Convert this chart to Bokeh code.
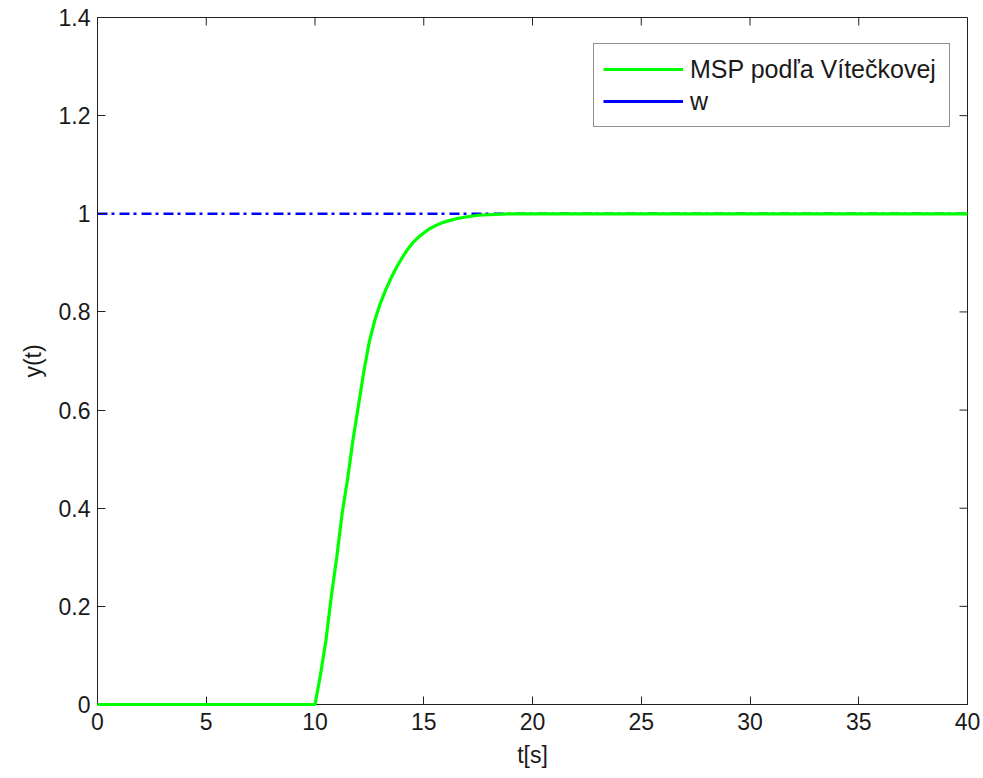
import math
from bokeh.plotting import figure
from bokeh.models import FixedTicker, Legend, LegendItem, Range1d
from bokeh.embed import file_html
from bokeh.resources import INLINE

# ---- data ----
time_s = [0.0, 10.0, 10.25, 10.5, 10.75, 11.0, 11.25, 11.5, 11.75, 12.0, 12.25, 12.5,
          12.75, 13.0, 13.25, 13.5, 13.75, 14.0, 14.25, 14.5, 14.75, 15.0, 15.25,
          15.5, 15.75, 16.0, 16.25, 16.5, 16.75, 17.0, 17.5, 18.0, 18.5, 19.0, 40.0]
msp_y = [0.0, 0.0, 0.06, 0.13, 0.22, 0.30, 0.39, 0.46, 0.54, 0.61, 0.68, 0.74,
         0.783, 0.817, 0.845, 0.869, 0.891, 0.91, 0.927, 0.941, 0.952, 0.961, 0.969,
         0.975, 0.980, 0.984, 0.987, 0.990, 0.992, 0.994, 0.997, 0.998, 0.999, 1.0, 1.0]
w_t = [0.0, 40.0]
w_y = [1.0, 1.0]

x_ticks = [0, 5, 10, 15, 20, 25, 30, 35, 40]
y_ticks = [0, 0.2, 0.4, 0.6, 0.8, 1, 1.2, 1.4]
y_tick_labels = ["0", "0.2", "0.4", "0.6", "0.8", "1", "1.2", "1.4"]

FONT = "Liberation Sans"
TXT = "#1a1a1a"
AX = "#222222"

x_min, x_max = x_ticks[0], x_ticks[-1]
y_min, y_max = y_ticks[0], y_ticks[-1]

p = figure(width=983, height=778, output_backend="svg", toolbar_location=None,
           x_range=Range1d(x_min, x_max), y_range=Range1d(y_min, y_max),
           min_border_left=97, min_border_right=16, min_border_top=17,
           min_border_bottom=74)
p.background_fill_color = "white"
p.border_fill_color = "white"
p.outline_line_color = AX
p.outline_line_width = 1
p.grid.visible = False

# lines
w_r = p.line(w_t, w_y, line_color="#0000ff", line_width=2.5, line_dash="10 4 3 5")
msp_r = p.line(time_s, msp_y, line_color="#00ff00", line_width=3.2)
msp_r.level = "overlay"
w_leg = p.line([w_t[0]], [float("nan")], line_color="#0000ff", line_width=3)

# inward ticks on the top and right edges of the box
p.ray(x=x_ticks, y=[y_max] * len(x_ticks), length=8, length_units="screen",
      angle=-math.pi / 2, line_color=AX, line_width=1)
p.ray(x=[x_max] * len(y_ticks), y=y_ticks, length=8, length_units="screen",
      angle=math.pi, line_color=AX, line_width=1)

xax = p.xaxis[0]
yax = p.yaxis[0]
xax.ticker = FixedTicker(ticks=x_ticks)
yax.ticker = FixedTicker(ticks=y_ticks)
yax.major_label_overrides = {t: l for t, l in zip(y_ticks, y_tick_labels)}
xax.axis_label = "t[s]"
yax.axis_label = "y(t)"
for ax in (xax, yax):
    ax.axis_line_color = AX
    ax.major_tick_line_color = AX
    ax.major_tick_in = 8
    ax.major_tick_out = 0
    ax.minor_tick_line_color = None
    ax.major_label_text_font = FONT
    ax.major_label_text_font_size = "23px"
    ax.major_label_text_color = TXT
    ax.axis_label_text_font = FONT
    ax.axis_label_text_font_size = "23px"
    ax.axis_label_text_font_style = "normal"
    ax.axis_label_text_color = TXT
xax.major_label_standoff = 8
xax.axis_label_standoff = 9
yax.major_label_standoff = 7
yax.axis_label_standoff = 10

legend = Legend(items=[LegendItem(label="MSP podľa Vítečkovej", renderers=[msp_r]),
                       LegendItem(label="w", renderers=[w_leg])],
                location=(496, 577))
legend.label_text_font = FONT
legend.label_text_font_size = "25px"
legend.label_text_color = TXT
legend.glyph_width = 80
legend.glyph_height = 32
legend.label_height = 32
legend.label_width = 250
legend.label_standoff = 7
legend.spacing = 0
legend.padding = 9
legend.margin = 0
legend.border_line_color = AX
legend.border_line_width = 1
legend.background_fill_color = "white"
legend.background_fill_alpha = 1.0
p.add_layout(legend)

open("out.html", "w").write(file_html(p, INLINE))
